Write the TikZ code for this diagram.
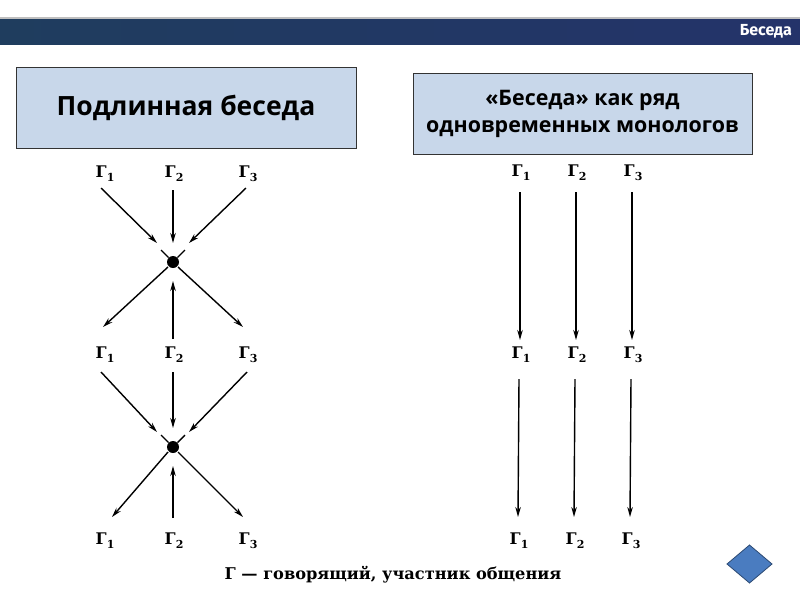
\documentclass[tikz,border=0pt]{standalone}
\usepackage{fontspec}
\setmainfont{DejaVu Serif}
\newfontfamily\boxfont{Open Sans}
\newfontfamily\hdrfont{Fira Sans}
\usetikzlibrary{arrows.meta,calc}
\definecolor{hdrA}{HTML}{1F3D5E}
\definecolor{hdrB}{HTML}{24336A}
\definecolor{boxfill}{HTML}{C8D7EA}
\definecolor{dia}{HTML}{4A7CC0}
\newcommand\glbl[1]{\fontsize{16}{16}\selectfont\bfseries Г\kern0.3pt\raisebox{-0.45ex}{\fontsize{11}{11}\selectfont #1}}
\tikzset{
  lbl/.style={inner sep=0pt, anchor=center},
  arr/.style={line width=1.4pt, -{Stealth[length=10pt,width=5.5pt]}},
  plain/.style={line width=1.4pt},
  titlebox/.style={draw=black!80, line width=0.8pt, fill=boxfill, align=center, inner sep=0pt},
  dotnode/.style={circle, fill=black, minimum size=12pt, inner sep=0pt},
}
\begin{document}
\begin{tikzpicture}[x=1pt,y=-1pt]
\useasboundingbox (0,0) rectangle (800,600);
% header
\fill[black!25] (0,17) rectangle (800,19);
\shade[left color=hdrA, right color=hdrB] (0,19) rectangle (800,44);
\node[anchor=east, text=white, inner sep=0pt, font=\hdrfont\fontsize{16}{16}\selectfont\bfseries] (hdrtxt) at (792,31) {Беседа};
% boxes
\node[titlebox, minimum width=340pt, minimum height=81pt, font=\boxfont\fontsize{26.5}{30}\selectfont\bfseries] (boxL) at (186,107.5) {Подлинная беседа};
\node[titlebox, minimum width=339pt, minimum height=81pt, font=\boxfont\fontsize{21.4}{27}\selectfont\bfseries] (boxR) at (582.5,113.5) {«Беседа» как ряд\\ одновременных монологов};
% left diagram labels
\node[lbl] (t1) at (105,174) {\glbl{1}};
\node[lbl] (t2) at (174,174) {\glbl{2}};
\node[lbl] (t3) at (248,174) {\glbl{3}};
\node[lbl] (m1) at (105,355) {\glbl{1}};
\node[lbl] (m2) at (174,355) {\glbl{2}};
\node[lbl] (m3) at (248,355) {\glbl{3}};
\node[lbl] (b1) at (105,541) {\glbl{1}};
\node[lbl] (b2) at (174,541) {\glbl{2}};
\node[lbl] (b3) at (248,541) {\glbl{3}};
\node[dotnode] (d1) at (173,262) {};
\node[dotnode] (d2) at (173,447) {};
% upper crossing
\draw[arr] ($(t1)+(-4,14)$) -- ($(d1)+(-16,-19)$);
\draw[arr] ($(t2)+(-1,16)$) -- ($(d1)+(0,-19)$);
\draw[arr] ($(t3)+(-2,14)$) -- ($(d1)+(16,-19)$);
\draw[plain] ($(d1)+(-12,-12)$) -- (d1) -- ($(d1)+(12,-12)$);
\draw[arr] ($(d1)+(-5,5)$) -- ($(m1)+(-2,-28)$);
\draw[arr] ($(m2)+(-1,-16)$) -- ($(d1)+(0,19)$);
\draw[arr] ($(d1)+(5,5)$) -- ($(m3)+(-5,-28)$);
% lower crossing
\draw[arr] ($(m1)+(-4,17)$) -- ($(d2)+(-16,-15)$);
\draw[arr] ($(m2)+(-1,17)$) -- ($(d2)+(0,-19)$);
\draw[arr] ($(m3)+(-1,17)$) -- ($(d2)+(16,-15)$);
\draw[plain] ($(d2)+(-12,-12)$) -- (d2) -- ($(d2)+(12,-12)$);
\draw[arr] ($(d2)+(-5,5)$) -- ($(b1)+(7,-24)$);
\draw[arr] ($(b2)+(-1,-23)$) -- ($(d2)+(0,19)$);
\draw[arr] ($(d2)+(5,5)$) -- ($(b3)+(-5,-24)$);
% right diagram
\node[lbl] (rt1) at (521,173) {\glbl{1}};
\node[lbl] (rt2) at (577,173) {\glbl{2}};
\node[lbl] (rt3) at (633,173) {\glbl{3}};
\node[lbl] (rm1) at (521,355) {\glbl{1}};
\node[lbl] (rm2) at (577,355) {\glbl{2}};
\node[lbl] (rm3) at (633,355) {\glbl{3}};
\node[lbl] (rb1) at (519,541) {\glbl{1}};
\node[lbl] (rb2) at (575,541) {\glbl{2}};
\node[lbl] (rb3) at (631,541) {\glbl{3}};
\foreach \i in {1,2,3}{
  \draw[arr] ($(rt\i)+(-1,19)$) -- ($(rm\i)+(-1,-15)$);
  \draw[arr] ($(rm\i)+(-2,24)$) -- ($(rb\i)+(-1,-24)$);
}
% caption
\node[inner sep=0pt, font=\fontsize{16.2}{16}\selectfont\bfseries] (cap) at (393,575) {Г — говорящий, участник общения};
% diamond
\draw[fill=dia, draw=dia!60!black, line width=0.8pt] (727,564) -- (749.5,545) -- (772,564) -- (749.5,583) -- cycle;
\end{tikzpicture}
\end{document}
